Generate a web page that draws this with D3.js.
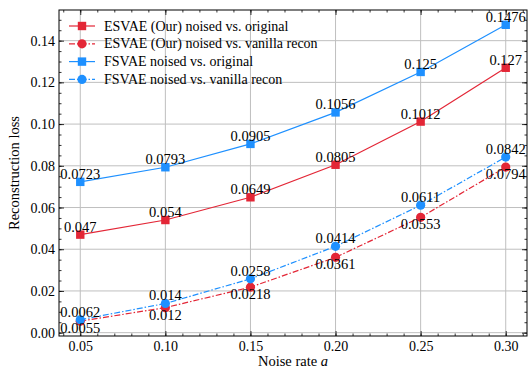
<!DOCTYPE html>
<html>
<head>
<meta charset="utf-8">
<script src="https://cdn.jsdelivr.net/npm/d3@7"></script>
<style>
  body { margin: 0; background: #fff; }
  text { font-family: "Liberation Serif", "DejaVu Serif", serif; fill: #000; }
</style>
</head>
<body>
<svg id="fig" width="532" height="371"></svg>
<script>
var noiseRates = [0.05, 0.10, 0.15, 0.20, 0.25, 0.30];
var esvaeOrig = [0.047, 0.054, 0.0649, 0.0805, 0.1012, 0.127];
var esvaeVanilla = [0.0055, 0.012, 0.0218, 0.0361, 0.0553, 0.0794];
var fsvaeOrig = [0.0723, 0.0793, 0.0905, 0.1056, 0.125, 0.1476];
var fsvaeVanilla = [0.0062, 0.014, 0.0258, 0.0414, 0.0611, 0.0842];
var xTicks = [0.05, 0.10, 0.15, 0.20, 0.25, 0.30];
var yTicks = [0.00, 0.02, 0.04, 0.06, 0.08, 0.10, 0.12, 0.14];

var red = "#e32636", blue = "#1e90ff";
var series = [
  {name: "ESVAE (Our) noised vs. original", vals: esvaeOrig, color: red, marker: "square", dash: null, labelPos: "above"},
  {name: "ESVAE (Our) noised vs. vanilla recon", vals: esvaeVanilla, color: red, marker: "circle", dash: "6,2,1.5,2", labelPos: "below"},
  {name: "FSVAE noised vs. original", vals: fsvaeOrig, color: blue, marker: "square", dash: null, labelPos: "above"},
  {name: "FSVAE noised vs. vanilla recon", vals: fsvaeVanilla, color: blue, marker: "circle", dash: "6,2,1.5,2", labelPos: "above"}
];

var L = 59, R = 527, T = 10, B = 336;
var svg = d3.select("#fig");
var x = d3.scaleLinear().domain([0.0375, 0.3125]).range([L, R]);
var y = d3.scaleLinear().domain([-0.0016, 0.1547]).range([B, T]);

// grid
var grid = svg.append("g").attr("stroke", "#bfbfbf").attr("stroke-width", 1);
grid.selectAll(".gx").data(xTicks).enter().append("line")
  .attr("x1", d => x(d)).attr("x2", d => x(d)).attr("y1", T).attr("y2", B);
grid.selectAll(".gy").data(yTicks).enter().append("line")
  .attr("y1", d => y(d)).attr("y2", d => y(d)).attr("x1", L).attr("x2", R);

// axes with inward ticks on all sides
var xMinor = d3.range(0.04, 0.3125, 0.01).map(v => +v.toFixed(2));
var yMinor = d3.range(0, 0.155, 0.005).map(v => +v.toFixed(3));
function addAxis(axis, tx, ty, minor, major, pad) {
  var g = svg.append("g").attr("transform", "translate(" + tx + "," + ty + ")");
  g.call(axis.tickValues(major).tickSize(-5).tickPadding(pad));
  g.select(".domain").remove();
  g.attr("font-family", "Liberation Serif").attr("font-size", 14);
  var m = svg.append("g").attr("transform", "translate(" + tx + "," + ty + ")");
  m.call(axis.tickValues(minor).tickSize(-2.5).tickFormat(""));
  m.select(".domain").remove();
  return g;
}
var fmt2 = d3.format(".2f");
addAxis(d3.axisBottom(x).tickFormat(fmt2), 0, B, xMinor, xTicks, 5);
addAxis(d3.axisTop(x).tickFormat(""), 0, T, xMinor, xTicks, 5);
addAxis(d3.axisLeft(y).tickFormat(fmt2), L, 0, yMinor, yTicks, 4);
addAxis(d3.axisRight(y).tickFormat(""), R, 0, yMinor, yTicks, 4);
svg.selectAll(".tick text").style("font-size", "14px");
svg.selectAll(".tick line").attr("stroke", "#000").attr("stroke-width", 0.8);

// lines
var line = d3.line().x((d, i) => x(noiseRates[i])).y(d => y(d));
series.forEach(function(s) {
  svg.append("path").datum(s.vals).attr("d", line)
    .attr("fill", "none").attr("stroke", s.color).attr("stroke-width", 1.2)
    .attr("stroke-dasharray", s.dash);
});

function drawMarker(g, type, cx, cy, color) {
  if (type === "square") {
    g.append("rect").attr("x", cx - 4.2).attr("y", cy - 4.2).attr("width", 8.4).attr("height", 8.4).attr("fill", color);
  } else {
    g.append("circle").attr("cx", cx).attr("cy", cy).attr("r", 4.6).attr("fill", color);
  }
}
series.forEach(function(s) {
  var g = svg.append("g");
  s.vals.forEach(function(v, i) { drawMarker(g, s.marker, x(noiseRates[i]), y(v), s.color); });
});
// value labels
series.forEach(function(s) {
  svg.append("g").selectAll("text").data(s.vals).enter().append("text")
    .attr("x", (d, i) => x(noiseRates[i]))
    .attr("y", d => s.labelPos === "above" ? y(d) - 3 : y(d) + 12)
    .attr("text-anchor", "middle").style("font-size", "14.5px")
    .text(d => String(d));
});

// spines
svg.append("rect").attr("x", L).attr("y", T).attr("width", R - L).attr("height", B - T)
  .attr("fill", "none").attr("stroke", "#000").attr("stroke-width", 1);

// legend
var lg = svg.append("g");
series.forEach(function(s, i) {
  var ly = 26 + i * 17.8;
  lg.append("line").attr("x1", 69).attr("x2", 95).attr("y1", ly).attr("y2", ly)
    .attr("stroke", s.color).attr("stroke-width", 1.2).attr("stroke-dasharray", s.dash);
  drawMarker(lg, s.marker, 82, ly, s.color);
  lg.append("text").attr("x", 104).attr("y", ly + 4.5).style("font-size", "14px").text(s.name);
});

// axis labels
svg.append("text").attr("x", (L + R) / 2).attr("y", 366).attr("text-anchor", "middle")
  .style("font-size", "14.5px").html('Noise rate <tspan font-style="italic">a</tspan>');
svg.append("text").attr("transform", "translate(19," + (T + B) / 2 + ") rotate(-90)")
  .attr("text-anchor", "middle").style("font-size", "14.5px").text("Reconstruction loss");
</script>
</body>
</html>
